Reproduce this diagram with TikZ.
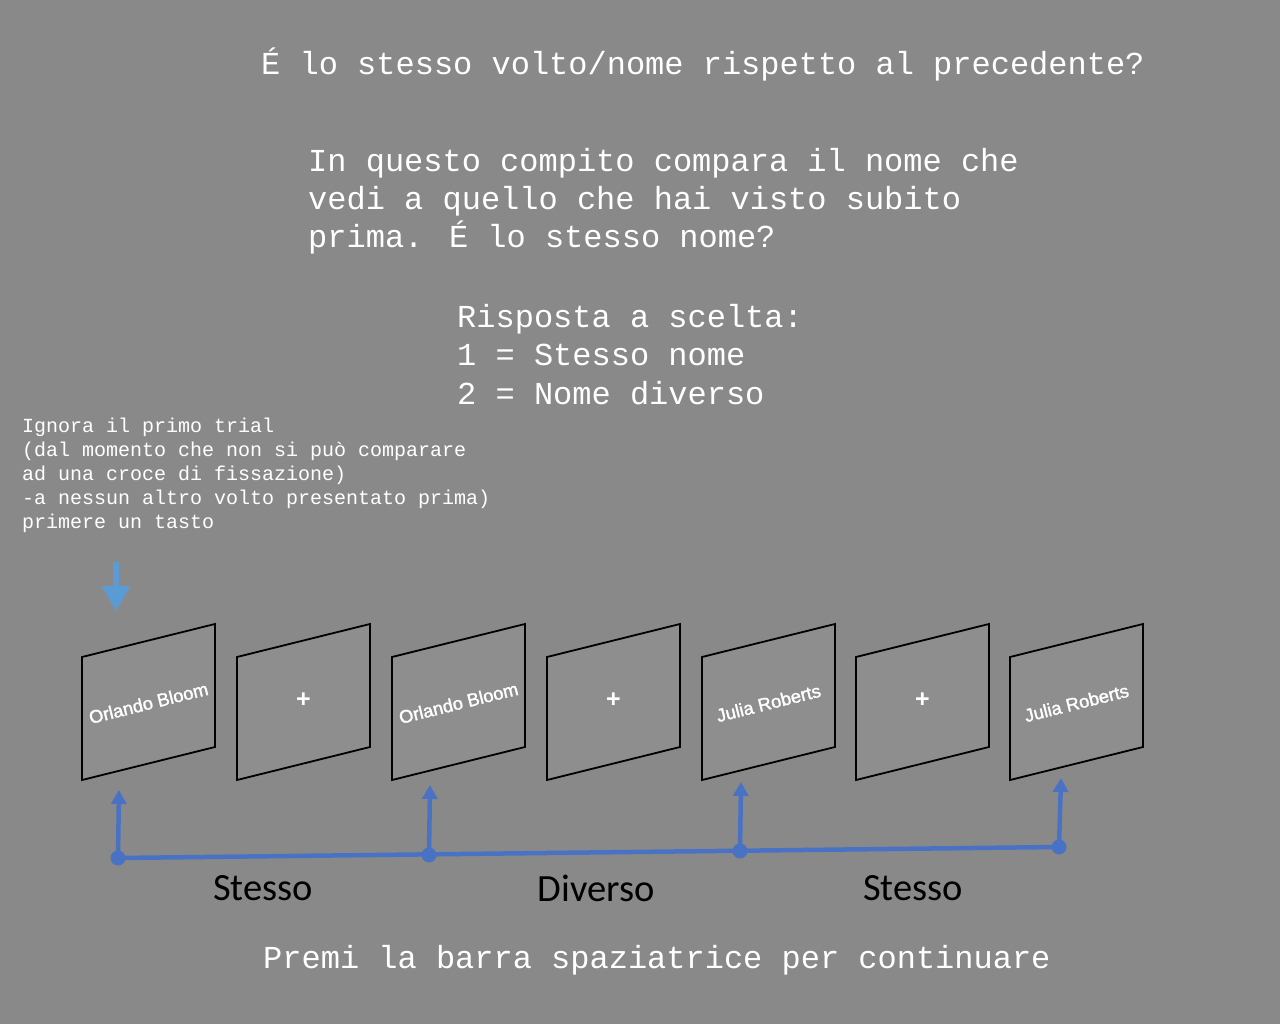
\documentclass[tikz,border=0pt]{standalone}
\usepackage{fontspec}
\setmainfont{Liberation Sans}
\newfontfamily\monofont{Liberation Mono}
\newfontfamily\calfont{Carlito}
\newfontfamily\cardfont[FakeBold=1.6]{Liberation Sans}
\usetikzlibrary{arrows.meta}
\definecolor{bgcol}{HTML}{898989}
\definecolor{cardcol}{HTML}{8E8E8E}
\definecolor{lightblue}{HTML}{5B9BD5}
\definecolor{darkblue}{HTML}{4A72C4}
\tikzset{
  bigtxt/.style={text=white, inner sep=0pt, anchor=base west, font=\monofont\fontsize{32}{38}\selectfont},
  smalltxt/.style={text=white, inner sep=0pt, anchor=base west, font=\monofont\fontsize{20}{24}\selectfont},
  cardbox/.style={draw=black, line width=1.8pt, fill=cardcol, line join=miter},
  cardtxt/.style={text=white, inner sep=0pt, rotate=14, font=\cardfont\fontsize{18.3}{20}\selectfont},
  crosstxt/.style={text=white, inner sep=0pt, font=\bfseries\fontsize{25}{25}\selectfont},
  lbl/.style={text=black, inner sep=0pt, font=\calfont\fontsize{38.5}{40}\selectfont},
  timeline/.style={draw=darkblue, line width=4.5pt},
  uparrow/.style={draw=darkblue, line width=4.5pt, -{Triangle[width=15pt,length=14pt]}},
  dot/.style={fill=darkblue},
  hintarrow/.style={draw=lightblue, line width=6pt, -{Triangle[width=27pt,length=25pt]}}
}
\begin{document}
\begin{tikzpicture}[x=1pt,y=-1pt]
\fill[bgcol] (0,0) rectangle (1280,1024);
\useasboundingbox (0,0) rectangle (1280,1024);

% texts
\node[bigtxt] (title) at (261,75) {É lo stesso volto/nome rispetto al precedente?};
\node[bigtxt] (q1) at (308,172) {In questo compito compara il nome che};
\node[bigtxt] (q2) at (308,210) {vedi a quello che hai visto subito};
\node[bigtxt] (q3) at (308,248) {prima. É lo stesso nome?};
\node[bigtxt] (r1) at (457,328) {Risposta a scelta:};
\node[bigtxt] (r2) at (457,366) {1 = Stesso nome};
\node[bigtxt] (r3) at (457,404) {2 = Nome diverso};
\node[smalltxt] (n1) at (22,432) {Ignora il primo trial};
\node[smalltxt] (n2) at (22,456) {(dal momento che non si può comparare};
\node[smalltxt] (n3) at (22,480) {ad una croce di fissazione)};
\node[smalltxt] (n4) at (22,504) {-a nessun altro volto presentato prima)};
\node[smalltxt] (n5) at (22,528) {primere un tasto};
\node[bigtxt] (foot) at (263,968) {Premi la barra spaziatrice per continuare};

% cards
\foreach \x in {82,237,392,547,702,856,1010}{
  \draw[cardbox] (\x,657) -- ++(133,-33) -- ++(0,123) -- ++(-133,33) -- cycle;
}
\node[cardtxt] (c1) at (148.5,703) {Orlando Bloom};
\node[crosstxt] (c2) at (303.5,700) {+};
\node[cardtxt] (c3) at (458.5,703) {Orlando Bloom};
\node[crosstxt] (c4) at (613.5,700) {+};
\node[cardtxt] (c5) at (768.5,703) {Julia Roberts};
\node[crosstxt] (c6) at (922.5,700) {+};
\node[cardtxt] (c7) at (1076.5,703) {Julia Roberts};

% hint arrow
\coordinate (h0) at (116,562);
\coordinate (h1) at (116,611);
\draw[hintarrow] (h0) -- (h1);

% timeline
\coordinate (d1) at (118,858);
\coordinate (d2) at (429,855);
\coordinate (d3) at (740,851);
\coordinate (d4) at (1059,847);
\coordinate (t1) at (119,790);
\coordinate (t2) at (430,785);
\coordinate (t3) at (741,782);
\coordinate (t4) at (1061,778);
\draw[timeline] (d1) -- (d4);
\foreach \i in {1,2,3,4}{
  \draw[uparrow] (d\i) -- (t\i);
  \fill[dot] (d\i) circle (7.5pt);
}

\node[lbl] (s1) at (263,888) {Stesso};
\node[lbl] (s2) at (596,888) {Diverso};
\node[lbl] (s3) at (913,888) {Stesso};
\end{tikzpicture}
\end{document}
